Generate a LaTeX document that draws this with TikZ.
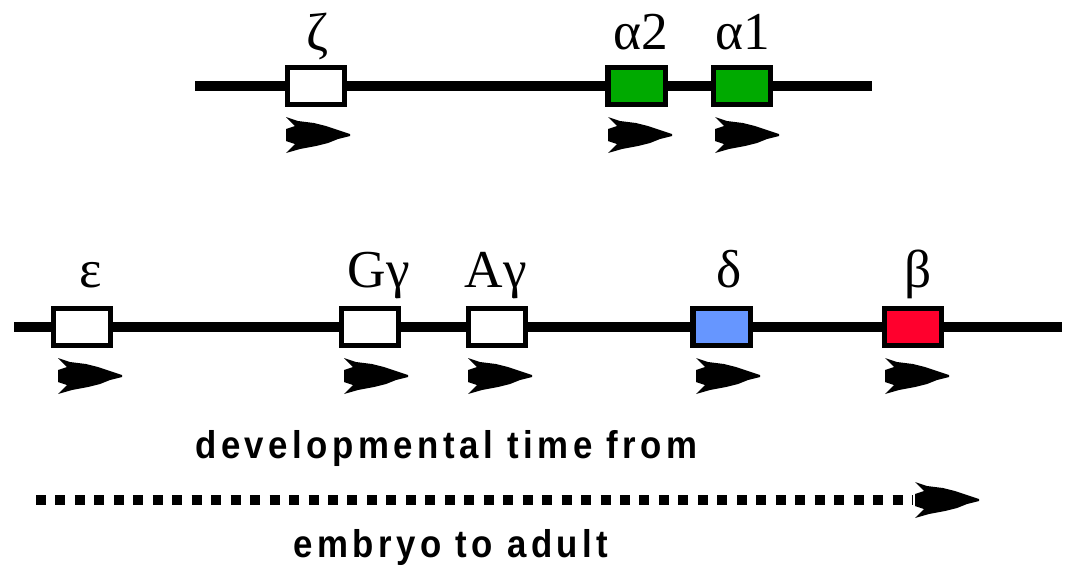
\documentclass[tikz,border=0pt]{standalone}
\usepackage{fontspec}
\setmainfont{Liberation Serif}
\newfontfamily\capfont[LetterSpace=13]{Liberation Sans}
\definecolor{genegreen}{RGB}{0,170,0}
\definecolor{geneblue}{RGB}{102,150,255}
\definecolor{genered}{RGB}{255,0,45}
\tikzset{
  chrom/.style={line width=7.5pt, line cap=butt},
  genebox/.style={draw=black, line width=4.1pt, fill=white, inner sep=0pt,
    minimum width=43.1pt, minimum height=28.1pt},
  genelabel/.style={anchor=base, inner sep=0pt, font=\fontsize{40}{44}\selectfont},
  captext/.style={anchor=base west, inner sep=0pt, font=\capfont\bfseries\fontsize{29}{32}\selectfont},
  dotline/.style={line width=7.5pt, line cap=butt, dash pattern=on 7.5pt off 7.1pt},
  prom/.pic={\fill (0,-18) -- (12,-14) -- (28,-12) -- (40,-9) -- (52,-5) -- (64,-1)
     -- (64,1) -- (52,4) -- (42,8) -- (30,11) -- (14,14) -- (0,18)
     -- (9,9) -- (0,6) -- (0,-6) -- (9,-9) -- cycle;}
}
\begin{document}
\begin{tikzpicture}[x=0.75pt,y=-0.75pt]
\useasboundingbox (0,0) rectangle (1067,568);
% alpha-globin cluster
\coordinate (tL) at (195,86);
\coordinate (tR) at (872,86);
\node[genebox] (zeta) at (316,86) {};
\node[genebox, fill=genegreen] (a2) at (636.5,86) {};
\node[genebox, fill=genegreen] (a1) at (742,86) {};
\draw[chrom] (tL) -- (zeta) -- (a2) -- (a1) -- (tR);
\node[genelabel] (lzeta) at (318,50) {ζ};
\node[genelabel] (la2) at (641,49) {α2};
\node[genelabel] (la1) at (743,49) {α1};
\pic at (286,135) {prom};
\pic at (608,135) {prom};
\pic at (715,135) {prom};
% beta-globin cluster
\coordinate (bL) at (14,327);
\coordinate (bR) at (1062,327);
\node[genebox] (eps) at (82,327) {};
\node[genebox] (Gg) at (370,327) {};
\node[genebox] (Ag) at (497,327) {};
\node[genebox, fill=geneblue] (delta) at (721.5,327) {};
\node[genebox, fill=genered] (beta) at (913,327) {};
\draw[chrom] (bL) -- (eps) -- (Gg) -- (Ag) -- (delta) -- (beta) -- (bR);
\node[genelabel] (leps) at (91,287) {ε};
\node[genelabel] (lGg) at (379,287) {Gγ};
\node[genelabel] (lAg) at (496,287) {Aγ};
\node[genelabel] (ldelta) at (729,287) {δ};
\node[genelabel] (lbeta) at (918,287) {β};
\pic at (58,376) {prom};
\pic at (344,376) {prom};
\pic at (468,376) {prom};
\pic at (696,376) {prom};
\pic at (885,376) {prom};
% developmental time arrow
\node[captext] (t1) at (195,458) {\scalebox{0.9}[1]{developmental time from}};
\coordinate (dS) at (36,500);
\coordinate (dE) at (913,500);
\draw[dotline] (dS) -- (dE);
\pic at (915,500) {prom};
\node[captext] (t2) at (293,557) {\scalebox{0.9}[1]{embryo to adult}};
\end{tikzpicture}
\end{document}
